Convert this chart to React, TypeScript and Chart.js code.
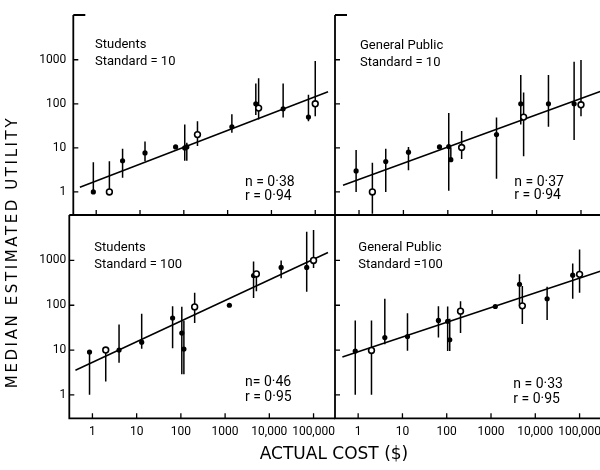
import React, { useEffect, useRef } from 'react';
import { Chart, registerables } from 'chart.js';

Chart.register(...registerables);

// ---------- data ----------
const costs = [0.86, 2, 4, 13, 65, 105, 117, 205, 1250, 4400, 5100, 18500, 70000, 100000];
const hollow = [false, true, false, false, false, false, false, true, false, false, true, false, false, true];

const xTickValues = [1, 10, 100, 1000, 10000, 100000];
const xTickLabels = ['1', '10', '100', '1000', '10,000', '100,000'];
const yTickValues = [1, 10, 100, 1000];
const yTickLabels = ['1', '10', '100', '1000'];

// Students, Standard = 10
const tlMedian = [1, 1, 5.1, 7.7, 10.5, 10, 10.5, 20, 30, 100, 80, 77, 50, 100];
const tlLow = [1, 1, 2.1, 5, null, 5.1, 5.1, 11, 22, 56, 44, 49, 40, 52];
const tlHigh = [4.7, 5, 9.6, 14, null, 34, 13, 40, 58, 290, 380, 290, 160, 930];
const tlFitX = [0.424, 196000];
const tlFitY = [1.28, 188];

// General Public, Standard = 10
const trMedian = [3, 1, 4.9, 8, 10.5, 10.7, 5.4, 10.2, 20, 100, 50, 100, 100, 95];
const trLow = [1, 0.32, 1, 3.1, null, 1.07, 5.4, 5.6, 2, 34, 6.5, 30, 15, 52];
const trHigh = [8.9, 4.6, 9.5, 10.5, null, 62, 10.2, 24, 49, 450, 180, 450, 900, 980];
const trFitX = [0.436, 400000];
const trFitY = [1.42, 219];

// Students, Standard = 100
const blMedian = [9, 10, 10, 15, 52, 24, 10.5, 92, 100, 460, 500, 700, 700, 1000];
const blLow = [1, 2, 5.2, 10.7, 11, 2.9, 2.9, 40, null, 145, 205, 400, 200, 680];
const blHigh = [9, 10, 37, 65, 95, 93, 45, 190, null, 950, 500, 1000, 4400, 4800];
const blFitX = [0.413, 212000];
const blFitY = [3.54, 1506];

// General Public, Standard = 100
const brMedian = [9.5, 9.8, 19, 20, 46, 44, 17, 74, 94, 295, 97, 140, 470, 490];
const brLow = [1, 1, 13.5, 9.7, 19, 9.5, 9.5, 24, null, 97, 38, 47, 140, 190];
const brHigh = [46, 46, 140, 66, 95, 94, 50, 123, null, 490, 270, 260, 860, 1750];
const brFitX = [0.44, 400000];
const brFitY = [6.99, 637];

// ---------- layout / config ----------
type Box = { x: number; y: number; w: number; h: number };
type PanelSpec = {
  median: number[];
  low: (number | null)[];
  high: (number | null)[];
  fitX: number[];
  fitY: number[];
  xMin: number;
  xMax: number;
  showX: boolean;
  showY: boolean;
  yAxisW: number;
  yPad: number;
  xAxisH: number;
  xPad: number;
  padding: { left: number; top: number; right: number; bottom: number };
  canvas: Box;
  stub: boolean;
  topLine: boolean;
};

const Y_MIN = Math.pow(10, -0.5);
const Y_MAX = Math.pow(10, 4.015);

const panels: PanelSpec[] = [
  {
    median: tlMedian, low: tlLow, high: tlHigh, fitX: tlFitX, fitY: tlFitY,
    xMin: Math.pow(10, -0.456), xMax: Math.pow(10, 5.451),
    showX: false, showY: true, yAxisW: 53.3, yPad: 7, xAxisH: 0, xPad: 0,
    padding: { left: 0, top: 15, right: 25, bottom: 15 },
    canvas: { x: 20, y: 0, w: 340, h: 230 }, stub: true, topLine: false,
  },
  {
    median: trMedian, low: trLow, high: trHigh, fitX: trFitX, fitY: trFitY,
    xMin: Math.pow(10, -0.541), xMax: Math.pow(10, 5.766),
    showX: false, showY: false, yAxisW: 0, yPad: 0, xAxisH: 0, xPad: 0,
    padding: { left: 15, top: 15, right: 25, bottom: 15 },
    canvas: { x: 320, y: 0, w: 320, h: 230 }, stub: true, topLine: false,
  },
  {
    median: blMedian, low: blLow, high: blHigh, fitX: blFitX, fitY: blFitY,
    xMin: Math.pow(10, -0.512), xMax: Math.pow(10, 5.485),
    showX: true, showY: true, yAxisW: 59.3, yPad: 3, xAxisH: 51.7, xPad: 6,
    padding: { left: 0, top: 15, right: 25, bottom: 0 },
    canvas: { x: 10, y: 200, w: 350, h: 270 }, stub: false, topLine: true,
  },
  {
    median: brMedian, low: brLow, high: brHigh, fitX: brFitX, fitY: brFitY,
    xMin: Math.pow(10, -0.507), xMax: Math.pow(10, 5.8),
    showX: true, showY: false, yAxisW: 0, yPad: 0, xAxisH: 51.7, xPad: 6,
    padding: { left: 15, top: 15, right: 25, bottom: 0 },
    canvas: { x: 320, y: 200, w: 320, h: 270 }, stub: false, topLine: true,
  },
];

function decorPlugin(spec: PanelSpec) {
  return {
    id: 'panelDecor',
    beforeDatasetsDraw(chart: any) {
      const { ctx, chartArea: a, scales } = chart;
      const xs = scales.x;
      const ys = scales.y;
      ctx.save();
      ctx.strokeStyle = '#000';
      ctx.lineCap = 'butt';
      // frame
      ctx.lineWidth = 1.8;
      ctx.beginPath();
      ctx.moveTo(a.left, a.top);
      ctx.lineTo(a.left, a.bottom);
      ctx.lineTo(a.right, a.bottom);
      if (spec.stub) {
        ctx.moveTo(a.left, a.top);
        ctx.lineTo(a.left + 12, a.top);
      }
      if (spec.topLine) {
        ctx.moveTo(a.left, a.top);
        ctx.lineTo(a.right, a.top);
      }
      ctx.stroke();
      // inward tick marks
      ctx.lineWidth = 1.3;
      ctx.beginPath();
      xTickValues.forEach((v) => {
        const px = xs.getPixelForValue(v);
        ctx.moveTo(px, a.bottom);
        ctx.lineTo(px, a.bottom - 5);
      });
      yTickValues.forEach((v) => {
        const py = ys.getPixelForValue(v);
        ctx.moveTo(a.left, py);
        ctx.lineTo(a.left + 5, py);
      });
      ctx.stroke();
      // error bars
      ctx.lineWidth = 1.5;
      ctx.beginPath();
      costs.forEach((c, i) => {
        const lo = spec.low[i];
        const hi = spec.high[i];
        if (lo == null || hi == null) return;
        const px = xs.getPixelForValue(c);
        ctx.moveTo(px, ys.getPixelForValue(lo));
        ctx.lineTo(px, ys.getPixelForValue(hi));
      });
      ctx.stroke();
      ctx.restore();
    },
  };
}

function buildConfig(spec: PanelSpec): any {
  const filled = costs
    .map((c, i) => ({ x: c, y: spec.median[i], h: hollow[i] }))
    .filter((p) => !p.h)
    .map((p) => ({ x: p.x, y: p.y }));
  const open = costs
    .map((c, i) => ({ x: c, y: spec.median[i], h: hollow[i] }))
    .filter((p) => p.h)
    .map((p) => ({ x: p.x, y: p.y }));
  const fit = spec.fitX.map((x, i) => ({ x, y: spec.fitY[i] }));
  const tickFont = { family: 'Roboto', size: 12 };
  return {
    type: 'scatter',
    data: {
      datasets: [
        {
          label: 'open',
          data: open,
          order: 0,
          pointRadius: 2.9,
          pointBackgroundColor: '#fff',
          pointBorderColor: '#000',
          pointBorderWidth: 1.6,
          showLine: false,
        },
        {
          label: 'filled',
          data: filled,
          order: 1,
          pointRadius: 2.6,
          pointBackgroundColor: '#000',
          pointBorderColor: '#000',
          pointBorderWidth: 0,
          showLine: false,
        },
        {
          label: 'fit',
          data: fit,
          order: 2,
          showLine: true,
          borderColor: '#000',
          borderWidth: 1.5,
          pointRadius: 0,
          fill: false,
        },
      ],
    },
    options: {
      responsive: false,
      animation: false,
      events: [],
      layout: { padding: spec.padding },
      plugins: { legend: { display: false }, tooltip: { enabled: false }, title: { display: false } },
      scales: {
        x: {
          type: 'logarithmic',
          position: 'bottom',
          min: spec.xMin,
          max: spec.xMax,
          display: spec.showX,
          afterBuildTicks: (s: any) => {
            s.ticks = xTickValues.map((v) => ({ value: v }));
          },
          afterFit: (s: any) => {
            s.height = spec.xAxisH;
          },
          ticks: {
            autoSkip: false,
            maxRotation: 0,
            minRotation: 0,
            padding: spec.xPad,
            color: '#000',
            font: tickFont,
            callback: (_v: any, i: number) => xTickLabels[i],
          },
          grid: { display: false, drawTicks: false },
          border: { display: false },
        },
        y: {
          type: 'logarithmic',
          position: 'left',
          min: Y_MIN,
          max: Y_MAX,
          display: spec.showY,
          afterBuildTicks: (s: any) => {
            s.ticks = yTickValues.map((v) => ({ value: v }));
          },
          afterFit: (s: any) => {
            s.width = spec.yAxisW;
          },
          ticks: {
            autoSkip: false,
            padding: spec.yPad,
            color: '#000',
            font: tickFont,
            callback: (_v: any, i: number) => yTickLabels[i],
          },
          grid: { display: false, drawTicks: false },
          border: { display: false },
        },
      },
    },
    plugins: [decorPlugin(spec)],
  };
}

function Panel({ spec }: { spec: PanelSpec }) {
  const ref = useRef<HTMLCanvasElement | null>(null);
  useEffect(() => {
    if (!ref.current) return;
    const chart = new Chart(ref.current, buildConfig(spec));
    return () => chart.destroy();
  }, [spec]);
  const b = spec.canvas;
  return (
    <canvas
      ref={ref}
      width={b.w}
      height={b.h}
      style={{ position: 'absolute', left: b.x, top: b.y, width: b.w, height: b.h }}
    />
  );
}

type Txt = { text: string; x: number; y: number; size: number };
const labels: Txt[] = [
  { text: 'Students', x: 95, y: 36, size: 13 },
  { text: 'Standard = 10', x: 95, y: 52.7, size: 13 },
  { text: 'General Public', x: 360, y: 37, size: 13 },
  { text: 'Standard = 10', x: 360, y: 53.7, size: 13 },
  { text: 'Students', x: 94.3, y: 239.4, size: 13 },
  { text: 'Standard = 100', x: 94.3, y: 256, size: 13 },
  { text: 'General Public', x: 358.3, y: 238.7, size: 13 },
  { text: 'Standard =100', x: 358.3, y: 255.7, size: 13 },
  { text: 'n = 0·38', x: 245, y: 173.2, size: 14 },
  { text: 'r = 0·94', x: 245, y: 186.7, size: 14 },
  { text: 'n = 0·37', x: 514.3, y: 173.2, size: 14 },
  { text: 'r = 0·94', x: 514.3, y: 186.2, size: 14 },
  { text: 'n= 0·46', x: 245, y: 373.2, size: 14 },
  { text: 'r = 0·95', x: 245, y: 388.2, size: 14 },
  { text: 'n = 0·33', x: 513.3, y: 374.7, size: 14 },
  { text: 'r = 0·95', x: 513.3, y: 389.7, size: 14 },
];

export default function App() {
  return (
    <div
      style={{
        position: 'absolute',
        left: 0,
        top: 0,
        width: 600,
        height: 470,
        overflow: 'hidden',
        background: '#fff',
      }}
    >
      {panels.map((p, i) => (
        <Panel key={i} spec={p} />
      ))}
      {labels.map((t, i) => (
        <div
          key={'t' + i}
          style={{
            position: 'absolute',
            left: t.x,
            top: t.y,
            fontFamily: 'Roboto',
            fontSize: t.size,
            lineHeight: t.size + 2 + 'px',
            color: '#000',
            whiteSpace: 'pre',
          }}
        >
          {t.text}
        </div>
      ))}
      <div
        style={{
          position: 'absolute',
          left: 12 - 160,
          top: 252 - 10,
          width: 320,
          height: 20,
          lineHeight: '20px',
          textAlign: 'center',
          transform: 'rotate(-90deg)',
          fontFamily: '"DejaVu Sans"',
          fontSize: 15,
          letterSpacing: '2.6px',
          color: '#000',
          whiteSpace: 'nowrap',
        }}
      >
        MEDIAN ESTIMATED UTILITY
      </div>
      <div
        style={{
          position: 'absolute',
          left: 334 - 150,
          top: 443.3,
          width: 300,
          height: 20,
          lineHeight: '20px',
          textAlign: 'center',
          fontFamily: '"DejaVu Sans"',
          fontSize: 17,
          color: '#000',
          whiteSpace: 'nowrap',
        }}
      >
        ACTUAL COST ($)
      </div>
    </div>
  );
}
